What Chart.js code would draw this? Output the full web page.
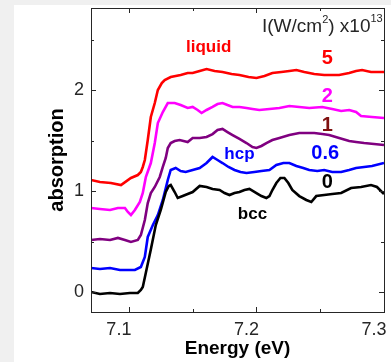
<!DOCTYPE html>
<html>
<head>
<meta charset="utf-8">
<script src="https://cdn.jsdelivr.net/npm/chart.js@4.4.1/dist/chart.umd.min.js"></script>
<style>
  html, body { margin: 0; padding: 0; background: #ffffff; overflow: hidden; }
  #wrap { position: absolute; left: 0; top: 0; width: 391px; height: 362px; }
  canvas { display: block; }
</style>
</head>
<body>
<div id="wrap"><canvas id="c" width="391" height="362"></canvas></div>
<script>
// ---- data (energy in eV, absorption) ----
const xTicks = [7.1, 7.2, 7.3];
const yTicks = [0, 1, 2];
const xMinorTicks = [7.15, 7.25];
const yMinorTicks = [0.5, 1.5, 2.5];

// I = 0 (bcc)
const bccEnergy = [7.0703,7.0773,7.0852,7.0930,7.1008,7.1070,7.1094,7.1109,7.1133,7.1172,7.1211,7.1250,7.1289,7.1313,7.1328,7.1359,7.1383,7.1422,7.1461,7.1500,7.1555,7.1609,7.1656,7.1711,7.1750,7.1789,7.1828,7.1867,7.1906,7.1945,7.2000,7.2039,7.2078,7.2102,7.2125,7.2156,7.2188,7.2219,7.2250,7.2281,7.2336,7.2391,7.2430,7.2469,7.2531,7.2594,7.2664,7.2742,7.2820,7.2898,7.2945,7.3000];
const bccAbs    = [0.000,-0.020,-0.010,-0.020,-0.010,-0.010,0.020,0.050,0.190,0.420,0.663,0.812,0.990,1.050,1.059,0.990,0.931,0.950,0.970,0.990,1.050,1.040,1.020,1.010,0.980,0.960,0.980,0.990,1.010,1.020,0.980,0.950,0.931,0.950,1.010,1.079,1.129,1.129,1.079,1.010,0.950,0.911,0.891,0.950,0.960,0.970,0.980,1.030,1.040,1.059,1.040,0.970];

// I = 0.6 (hcp)
const hcpEnergy = [7.0703,7.0773,7.0852,7.0930,7.0992,7.1047,7.1094,7.1125,7.1148,7.1188,7.1227,7.1266,7.1305,7.1328,7.1367,7.1406,7.1445,7.1500,7.1555,7.1609,7.1656,7.1695,7.1734,7.1781,7.1828,7.1875,7.1922,7.1984,7.2039,7.2102,7.2156,7.2211,7.2258,7.2313,7.2367,7.2414,7.2477,7.2531,7.2594,7.2664,7.2727,7.2781,7.2844,7.2906,7.3000];
const hcpAbs    = [0.238,0.228,0.238,0.218,0.218,0.218,0.248,0.347,0.545,0.663,0.762,0.911,1.109,1.208,1.228,1.198,1.188,1.208,1.228,1.277,1.337,1.307,1.277,1.238,1.208,1.188,1.178,1.188,1.198,1.208,1.257,1.277,1.277,1.248,1.228,1.208,1.198,1.208,1.188,1.188,1.208,1.228,1.238,1.248,1.277];

// I = 1
const s1Energy = [7.0703,7.0773,7.0852,7.0914,7.0969,7.1016,7.1070,7.1094,7.1125,7.1148,7.1172,7.1203,7.1242,7.1266,7.1289,7.1305,7.1328,7.1359,7.1398,7.1461,7.1500,7.1555,7.1609,7.1656,7.1695,7.1734,7.1773,7.1813,7.1867,7.1922,7.1969,7.2000,7.2039,7.2078,7.2125,7.2180,7.2258,7.2336,7.2391,7.2453,7.2516,7.2570,7.2648,7.2727,7.2781,7.2844,7.2922,7.3000];
const s1Abs    = [0.515,0.525,0.515,0.535,0.515,0.495,0.515,0.564,0.713,0.881,0.980,1.040,1.139,1.238,1.327,1.426,1.475,1.495,1.505,1.485,1.525,1.525,1.535,1.564,1.604,1.614,1.584,1.554,1.515,1.475,1.436,1.426,1.446,1.475,1.505,1.525,1.554,1.574,1.574,1.574,1.564,1.554,1.525,1.495,1.485,1.475,1.465,1.455];

// I = 2
const s2Energy = [7.0703,7.0773,7.0852,7.0914,7.0969,7.0992,7.1016,7.1047,7.1086,7.1109,7.1133,7.1172,7.1203,7.1227,7.1266,7.1305,7.1359,7.1406,7.1461,7.1500,7.1539,7.1570,7.1609,7.1656,7.1695,7.1734,7.1773,7.1813,7.1867,7.1922,7.1969,7.2023,7.2102,7.2180,7.2258,7.2336,7.2414,7.2516,7.2594,7.2664,7.2727,7.2781,7.2820,7.2906,7.3000];
const s2Abs    = [0.832,0.822,0.812,0.832,0.832,0.792,0.762,0.812,0.891,0.980,1.139,1.277,1.475,1.673,1.782,1.871,1.871,1.851,1.822,1.832,1.802,1.772,1.802,1.832,1.861,1.871,1.851,1.832,1.832,1.822,1.812,1.802,1.812,1.822,1.842,1.832,1.822,1.832,1.812,1.792,1.802,1.782,1.743,1.733,1.723];

// I = 5 (liquid)
const s5Energy = [7.0703,7.0773,7.0859,7.0938,7.1016,7.1070,7.1094,7.1109,7.1125,7.1148,7.1172,7.1203,7.1227,7.1258,7.1281,7.1328,7.1406,7.1461,7.1500,7.1555,7.1609,7.1672,7.1734,7.1805,7.1867,7.1938,7.2000,7.2063,7.2125,7.2195,7.2258,7.2313,7.2375,7.2453,7.2531,7.2648,7.2727,7.2781,7.2828,7.2898,7.3000];
const s5Abs    = [1.109,1.089,1.079,1.059,1.129,1.158,1.188,1.238,1.307,1.505,1.733,1.871,2.000,2.069,2.099,2.129,2.149,2.168,2.168,2.188,2.208,2.188,2.178,2.158,2.149,2.129,2.119,2.139,2.168,2.178,2.188,2.198,2.178,2.158,2.149,2.149,2.168,2.188,2.198,2.178,2.178];

const seriesNames  = ['0', '0.6', '1', '2', '5'];
const seriesColors = ['#000000', '#0000ff', '#800080', '#ff00ff', '#ff0000'];

// text annotations (data coordinates)
const notes = [
  { text: 'liquid', x: 7.1625, y: 2.426, color: '#ff0000', size: 17 },
  { text: '5',      x: 7.2555, y: 2.317, color: '#ff0000', size: 20 },
  { text: '2',      x: 7.2555, y: 1.931, color: '#ff00ff', size: 20 },
  { text: '1',      x: 7.2555, y: 1.644, color: '#7f1010', size: 20 },
  { text: '0.6',    x: 7.2539, y: 1.376, color: '#0000ff', size: 20 },
  { text: '0',      x: 7.2555, y: 1.089, color: '#000000', size: 20 },
  { text: 'hcp',    x: 7.1867, y: 1.366, color: '#0000ff', size: 17 },
  { text: 'bcc',    x: 7.1969, y: 0.772, color: '#000000', size: 17 }
];

const FONT = "'Liberation Sans', Arial, sans-serif";

function pts(xs, ys) { return xs.map((x, i) => ({ x: x, y: ys[i] })); }
const seriesData = [pts(bccEnergy, bccAbs), pts(hcpEnergy, hcpAbs), pts(s1Energy, s1Abs), pts(s2Energy, s2Abs), pts(s5Energy, s5Abs)];

function noPad(s) { s.paddingLeft = 0; s.paddingRight = 0; s.paddingTop = 0; s.paddingBottom = 0; }

const decor = {
  id: 'decor',
  beforeDraw(chart) {
    const c = chart.ctx;
    c.save();
    c.fillStyle = '#ffffff';
    c.fillRect(0, 0, chart.width, chart.height);
    c.fillStyle = '#f0f0f0';
    c.fillRect(0, 0, 14, chart.height);
    c.fillRect(0, 0, chart.width, 5);
    c.restore();
  },
  afterDraw(chart) {
    const c = chart.ctx, a = chart.chartArea;
    const xs = chart.scales.x, ys = chart.scales.y;
    c.save();
    c.strokeStyle = '#262626';
    c.lineWidth = 1;
    c.strokeRect(Math.round(a.left) + 0.5, Math.round(a.top) + 0.5, Math.round(a.right - a.left), Math.round(a.bottom - a.top));
    c.beginPath();
    const tickX = (v, len) => {
      const p = Math.round(xs.getPixelForValue(v)) + 0.5;
      c.moveTo(p, a.bottom); c.lineTo(p, a.bottom - len);
      c.moveTo(p, a.top); c.lineTo(p, a.top + len);
    };
    const tickY = (v, len) => {
      const p = Math.round(ys.getPixelForValue(v)) + 0.5;
      c.moveTo(a.left, p); c.lineTo(a.left + len, p);
      c.moveTo(a.right, p); c.lineTo(a.right - len, p);
    };
    xTicks.forEach(v => tickX(v, 5));
    xMinorTicks.forEach(v => tickX(v, 3));
    yTicks.forEach(v => tickY(v, 5));
    yMinorTicks.forEach(v => tickY(v, 3));
    c.stroke();

    // annotations
    c.textAlign = 'center';
    c.textBaseline = 'middle';
    notes.forEach(n => {
      c.font = 'bold ' + n.size + 'px ' + FONT;
      c.fillStyle = n.color;
      c.fillText(n.text, xs.getPixelForValue(n.x), ys.getPixelForValue(n.y));
    });

    // intensity legend title: I(W/cm^2) x10^13
    c.fillStyle = '#262626';
    c.textAlign = 'left';
    c.textBaseline = 'alphabetic';
    let x = 262; const base = 32;
    const parts = [['I(W/cm', 19, 0], ['2', 11, -9], [') x10', 19, 0], ['13', 11, -10]];
    parts.forEach(p => {
      c.font = p[1] + 'px ' + FONT;
      c.fillText(p[0], x, base + p[2]);
      x += c.measureText(p[0]).width;
    });
    c.restore();
  }
};

new Chart(document.getElementById('c'), {
  type: 'line',
  data: {
    datasets: seriesData.map((d, i) => ({
      label: seriesNames[i],
      data: d,
      borderColor: seriesColors[i],
      backgroundColor: seriesColors[i],
      borderWidth: 2.6,
      pointRadius: 0,
      fill: false,
      tension: 0
    }))
  },
  options: {
    responsive: false,
    animation: false,
    devicePixelRatio: 1,
    layout: { padding: { top: 8, right: 7, left: 0, bottom: 0 } },
    plugins: { legend: { display: false }, tooltip: { enabled: false } },
    scales: {
      x: {
        type: 'linear',
        min: 7.0703,
        max: 7.3,
        grid: { display: false, drawTicks: false },
        border: { display: false },
        afterBuildTicks: s => { s.ticks = xTicks.map(v => ({ value: v })); },
        afterFit: s => { s.height = 50; noPad(s); },
        ticks: {
          padding: 7,
          labelOffset: -10,
          maxRotation: 0,
          autoSkip: false,
          color: '#262626',
          font: { family: FONT, size: 18 },
          callback: v => v.toFixed(1)
        },
        title: {
          display: true,
          text: 'Energy (eV)',
          color: '#000000',
          font: { family: FONT, size: 19, weight: 'bold' },
          padding: { top: 0, bottom: 2 }
        }
      },
      y: {
        type: 'linear',
        min: -0.198,
        max: 2.812,
        grid: { display: false, drawTicks: false },
        border: { display: false },
        afterBuildTicks: s => { s.ticks = yTicks.map(v => ({ value: v })); },
        afterFit: s => { s.width = 91; noPad(s); },
        ticks: {
          padding: 7,
          color: '#262626',
          font: { family: FONT, size: 18 },
          callback: v => String(v)
        },
        title: {
          display: true,
          text: 'absorption',
          color: '#000000',
          font: { family: FONT, size: 20, weight: 'bold' },
          padding: { top: 45, bottom: 0 }
        }
      }
    }
  },
  plugins: [decor]
});
</script>
</body>
</html>
